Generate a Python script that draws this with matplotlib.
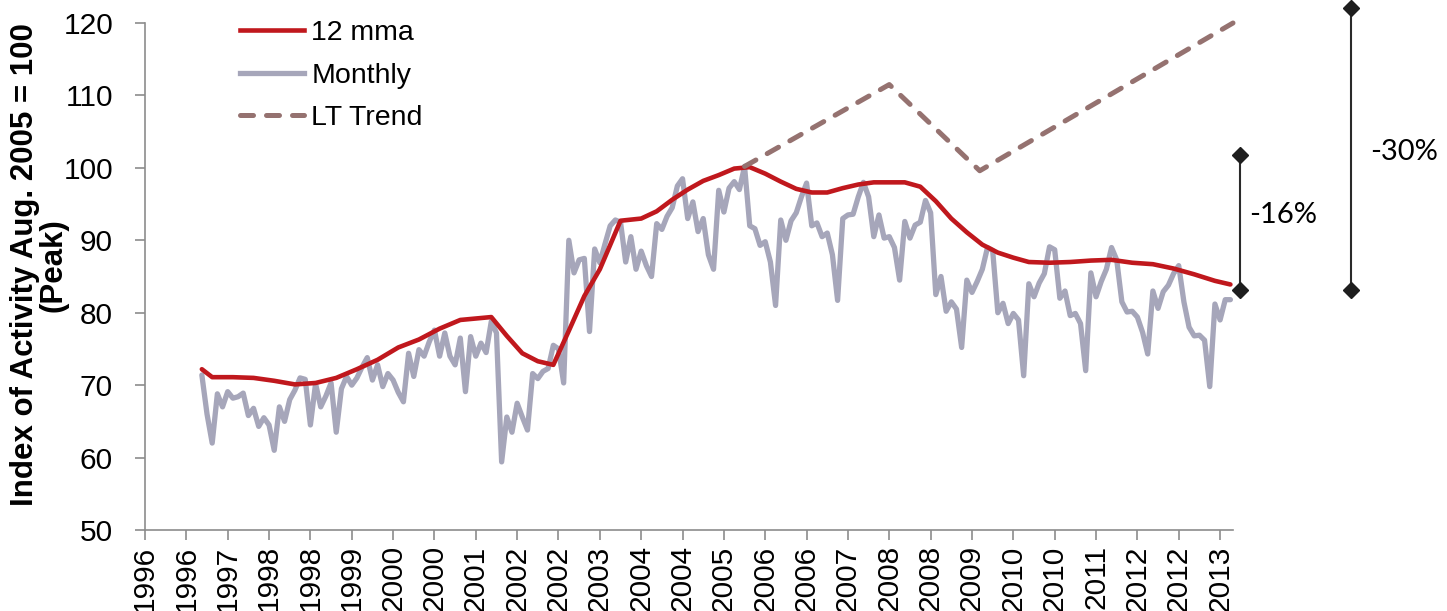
import matplotlib
matplotlib.use("Agg")
import matplotlib.pyplot as plt
from matplotlib.lines import Line2D

# ---------------- data (month index: 0 = Jan 1996) ----------------
monthly_start = 11
monthly = [
    71.4, 66.0, 62.0, 68.8, 67.0, 69.1, 68.2, 68.4, 68.9, 65.8,
    66.8, 64.3, 65.5, 64.5, 61.0, 67.0, 65.0, 68.0, 69.3, 71.0,
    70.8, 64.5, 70.2, 67.0, 68.5, 70.3, 63.5, 69.5, 71.2, 70.0,
    71.0, 72.5, 73.8, 70.7, 72.8, 69.8, 71.6, 70.7, 69.0, 67.7,
    74.4, 71.2, 74.9, 74.0, 76.0, 77.6, 74.0, 77.2, 74.0, 72.8,
    76.5, 69.1, 76.7, 74.0, 75.8, 74.5, 78.8, 77.2, 59.4, 65.6,
    63.5, 67.5, 65.6, 63.8, 71.6, 70.9, 71.9, 72.3, 75.5, 75.0,
    70.3, 90.0, 85.5, 87.3, 87.5, 77.4, 88.8, 86.9, 89.5, 92.0,
    92.8, 92.5, 87.0, 90.5, 86.0, 88.5, 86.5, 85.0, 92.3, 91.5,
    93.3, 94.5, 97.5, 98.5, 93.0, 95.3, 91.2, 93.0, 88.0, 86.0,
    96.9, 93.9, 97.2, 98.1, 97.0, 100.2, 92.0, 91.6, 89.3, 89.8,
    87.0, 81.0, 92.8, 90.0, 92.7, 93.8, 96.0, 97.9, 92.0, 92.4,
    90.5, 91.0, 88.0, 81.7, 93.0, 93.5, 93.6, 96.0, 98.0, 96.0,
    90.5, 93.5, 90.3, 90.5, 89.0, 84.5, 92.6, 90.3, 92.1, 92.5,
    95.5, 93.8, 82.5, 85.0, 80.2, 81.5, 80.5, 75.2, 84.5, 82.8,
    84.3, 86.0, 89.0, 88.6, 80.0, 81.3, 78.5, 79.9, 79.0, 71.3,
    84.0, 82.2, 84.1, 85.4, 89.1, 88.7, 82.0, 83.0, 79.6, 79.9,
    78.5, 72.0, 85.5, 82.2, 84.3, 86.0, 89.0, 87.3, 81.5, 80.1,
    80.2, 79.4, 77.3, 74.3, 83.0, 80.6, 82.9, 83.8, 85.4, 86.5,
    81.5, 78.0, 76.8, 76.9, 76.2, 69.8, 81.2, 79.0, 81.8, 81.8,
]
monthly_months = list(range(monthly_start, monthly_start + len(monthly)))

mma_months = [11, 13, 17, 21, 25, 29, 33, 37, 41, 45, 49, 53, 57, 61, 64, 67,
              70, 73, 76, 79, 82, 85, 88, 92, 96, 99, 102, 105, 108, 111, 114,
              117, 120, 123, 126, 129, 132, 135, 138, 141, 144, 147, 150, 153,
              156, 159, 162, 165, 168, 171, 175, 179, 183, 187, 191, 195, 199,
              203, 207, 210]
mma = [72.2, 71.1, 71.1, 71.0, 70.6, 70.1, 70.3, 71.0, 72.2, 73.5, 75.2, 76.3,
       77.8, 79.0, 79.2, 79.4, 76.8, 74.4, 73.3, 72.8, 77.5, 82.3, 86.0, 92.7,
       93.0, 94.0, 95.6, 97.0, 98.2, 99.0, 99.9, 100.1, 99.2, 98.1, 97.1, 96.6,
       96.6, 97.2, 97.7, 98.0, 98.0, 98.0, 97.4, 95.4, 93.0, 91.1, 89.4, 88.3,
       87.6, 87.0, 86.9, 87.0, 87.2, 87.3, 86.9, 86.7, 86.1, 85.3, 84.4, 83.9]

trend_months = [116, 144, 161.5, 210.5]
trend = [100.2, 111.5, 99.6, 120.0]

tick_months = list(range(0, 209, 8))
tick_labels = ['1996', '1996', '1997', '1998', '1998', '1999', '2000', '2000',
               '2001', '2002', '2002', '2003', '2004', '2004', '2005', '2006',
               '2006', '2007', '2008', '2008', '2009', '2010', '2010', '2011',
               '2012', '2012', '2013']

gap_months = [211.9, 233.4]
gap_low = [83.1, 83.1]
gap_high = [101.8, 122.1]
gap_labels = ['-16%', '-30%']
gap_label_pos = [(213.6, 93.5), (237.0, 102.2)]

# ---------------- styling ----------------
plt.rcParams['font.family'] = ['Liberation Sans', 'DejaVu Sans']
RED = '#C0181D'
GREY = '#A6A6BA'
BROWN = '#957270'
AXC = '#8C8C8C'

fig = plt.figure(figsize=(14.47, 6.11), dpi=100)
ax = fig.add_axes([145 / 1447, 1 - 530 / 611, (1233 - 145) / 1447, (530 - 23) / 611])

ax.plot(monthly_months, monthly, color=GREY, lw=3.8, solid_joinstyle='round',
        solid_capstyle='round', zorder=2, label='Monthly')
ax.plot(mma_months, mma, color=RED, lw=3.3, solid_joinstyle='round',
        solid_capstyle='round', zorder=3, label='12 mma')
ax.plot(trend_months, trend, color=BROWN, lw=3.6, dashes=(2.6, 2.6),
        dash_capstyle='round', zorder=4, label='LT Trend', clip_on=False)

ax.set_xlim(0, 210.5)
ax.set_ylim(50, 120)
ax.set_yticks(range(50, 121, 10))
ax.set_xticks(tick_months)
ax.set_xticklabels(tick_labels, rotation=90)

for s in ['top', 'right']:
    ax.spines[s].set_visible(False)
for s in ['left', 'bottom']:
    ax.spines[s].set_color(AXC)
    ax.spines[s].set_linewidth(1.2)
ax.tick_params(axis='both', colors=AXC, labelcolor='black', labelsize=21.5,
               length=7, width=1.2, direction='out')
ax.tick_params(axis='y', pad=16)
ax.tick_params(axis='x', pad=4)

fig.text(39 / 1447, 1 - 265 / 611, 'Index of Activity Aug. 2005 = 100\n(Peak)',
         rotation=90, ha='center', va='center', multialignment='center',
         fontsize=22.5, fontweight='bold', linespacing=0.92)

handles = [Line2D([], [], color=RED, lw=3.3),
           Line2D([], [], color=GREY, lw=3.8),
           Line2D([], [], color=BROWN, lw=3.6, dashes=(2.6, 2.6), dash_capstyle='round')]
leg = ax.legend(handles, ['12 mma', 'Monthly', 'LT Trend'], loc='upper left',
                bbox_to_anchor=((240 - 145) / 1088, (530 - 20) / 507),
                frameon=False, fontsize=20.5, handlelength=2.25,
                handletextpad=0.25, labelspacing=0.58, borderpad=0,
                borderaxespad=0)

for gx, lo, hi in zip(gap_months, gap_low, gap_high):
    ax.plot([gx, gx], [lo, hi], color='#2A2A2A', lw=1.5, marker='D',
            markersize=8, markerfacecolor='#1E1E1E', markeredgecolor='#1E1E1E',
            clip_on=False, zorder=5)
for (tx, ty), lab in zip(gap_label_pos, gap_labels):
    ax.text(tx, ty, lab, ha='left', va='center', fontsize=21,
            family=['Lato', 'DejaVu Sans'], color='black', clip_on=False)

fig.savefig('out.png', dpi=100)
